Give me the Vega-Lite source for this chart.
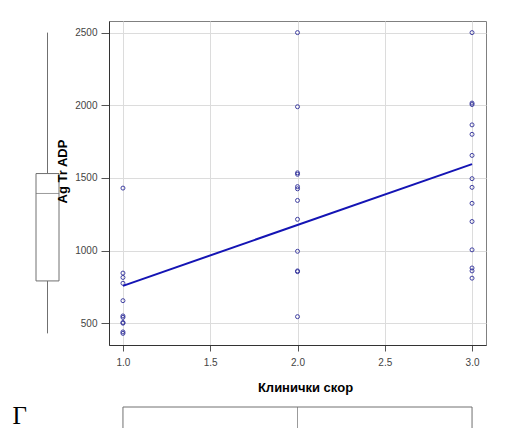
{
  "$schema": "https://vega.github.io/schema/vega-lite/v6.json",
  "background": "white",
  "padding": {"left": 12, "top": 20, "right": 0, "bottom": 0},
  "config": {
    "font": "Liberation Sans",
    "view": {"stroke": null},
    "axis": {
      "labelFont": "Liberation Sans",
      "labelFontSize": 10,
      "labelColor": "#444444",
      "tickColor": "#555555",
      "domainColor": "#333333",
      "gridColor": "#dcdcdc",
      "titleFont": "Liberation Sans",
      "titleFontSize": 13,
      "titleFontWeight": "bold",
      "titleColor": "#000000"
    }
  },
  "datasets": {
    "obs": [
      {"score": 1, "adp": 1430}, {"score": 1, "adp": 845}, {"score": 1, "adp": 815},
      {"score": 1, "adp": 775}, {"score": 1, "adp": 655}, {"score": 1, "adp": 550},
      {"score": 1, "adp": 540}, {"score": 1, "adp": 505}, {"score": 1, "adp": 500},
      {"score": 1, "adp": 440}, {"score": 1, "adp": 430},
      {"score": 2, "adp": 2500}, {"score": 2, "adp": 1990}, {"score": 2, "adp": 1535},
      {"score": 2, "adp": 1525}, {"score": 2, "adp": 1440}, {"score": 2, "adp": 1425},
      {"score": 2, "adp": 1345}, {"score": 2, "adp": 1215}, {"score": 2, "adp": 995},
      {"score": 2, "adp": 860}, {"score": 2, "adp": 855}, {"score": 2, "adp": 545},
      {"score": 3, "adp": 2500}, {"score": 3, "adp": 2015}, {"score": 3, "adp": 2005},
      {"score": 3, "adp": 1865}, {"score": 3, "adp": 1800}, {"score": 3, "adp": 1655},
      {"score": 3, "adp": 1495}, {"score": 3, "adp": 1435}, {"score": 3, "adp": 1325},
      {"score": 3, "adp": 1200}, {"score": 3, "adp": 1005}, {"score": 3, "adp": 880},
      {"score": 3, "adp": 860}, {"score": 3, "adp": 810}
    ],
    "fit": [{"score": 1, "adp": 757}, {"score": 3, "adp": 1595}],
    "ybox": [{"v": "Ag Tr ADP", "lo": 430, "q1": 791, "med": 1393, "q3": 1530, "hi": 2500}],
    "xbox": [{"v": "Клинички скор", "q1": 1, "med": 2, "q3": 3}]
  },
  "bounds": "flush",
  "spacing": 50,
  "hconcat": [
    {
      "width": 23,
      "height": 324,
      "data": {"name": "ybox"},
      "encoding": {
        "x": {"field": "v", "type": "nominal", "axis": null,
              "scale": {"paddingInner": 0, "paddingOuter": 0}}
      },
      "layer": [
        {
          "mark": {"type": "rule", "color": "#707070", "strokeWidth": 1},
          "encoding": {
            "y": {"field": "lo", "type": "quantitative", "axis": null,
                  "scale": {"domain": [350, 2580], "nice": false, "zero": false}},
            "y2": {"field": "hi"}
          }
        },
        {
          "mark": {"type": "bar", "fill": "white", "stroke": "#707070", "strokeWidth": 1},
          "encoding": {
            "y": {"field": "q1", "type": "quantitative", "axis": null,
                  "scale": {"domain": [350, 2580], "nice": false, "zero": false}},
            "y2": {"field": "q3"}
          }
        },
        {
          "mark": {"type": "tick", "color": "#707070", "size": 23, "thickness": 1},
          "encoding": {
            "y": {"field": "med", "type": "quantitative", "axis": null,
                  "scale": {"domain": [350, 2580], "nice": false, "zero": false}}
          }
        }
      ]
    },
    {
      "bounds": "flush",
      "spacing": 62,
      "vconcat": [
        {
          "width": 377,
          "height": 324,
          "view": {"stroke": "#808080", "strokeWidth": 1},
          "encoding": {
            "x": {
              "field": "score", "type": "quantitative",
              "scale": {"domain": [0.92, 3.08], "nice": false, "zero": false},
              "axis": {
                "title": "Клинички скор",
                "values": [1, 1.5, 2, 2.5, 3],
                "format": ".1f",
                "tickSize": 6,
                "labelPadding": 6,
                "titleBaseline": "top",
                "titleY": 36,
                "titleX": 196
              }
            },
            "y": {
              "field": "adp", "type": "quantitative",
              "scale": {"domain": [350, 2580], "nice": false, "zero": false},
              "axis": {
                "title": "Ag Tr ADP",
                "values": [500, 1000, 1500, 2000, 2500],
                "format": "d",
                "tickSize": 8,
                "labelPadding": 4,
                "titleY": 150,
                "titlePadding": 5
              }
            }
          },
          "layer": [
            {
              "data": {"name": "obs"},
              "mark": {"type": "point", "shape": "circle", "filled": false,
                       "color": "#2e2e9a", "size": 16, "strokeWidth": 1, "opacity": 0.9}
            },
            {
              "data": {"name": "fit"},
              "mark": {"type": "line", "color": "#1414b4", "strokeWidth": 2}
            }
          ]
        },
        {
          "width": 377,
          "height": 32,
          "data": {"name": "xbox"},
          "encoding": {
            "y": {
              "field": "v", "type": "nominal",
              "scale": {"paddingInner": 0, "paddingOuter": 0},
              "axis": {
                "title": "Г",
                "labels": false, "ticks": false, "domain": false, "grid": false,
                "titleAngle": 0,
                "titleFont": "Liberation Serif",
                "titleFontWeight": "normal",
                "titleFontSize": 25,
                "titleAlign": "left",
                "titleBaseline": "alphabetic",
                "titleX": -97,
                "titleY": 16
              }
            }
          },
          "layer": [
            {
              "mark": {"type": "bar", "fill": "white", "stroke": "#707070", "strokeWidth": 1},
              "encoding": {
                "x": {"field": "q1", "type": "quantitative", "axis": null,
                      "scale": {"domain": [0.92, 3.08], "nice": false, "zero": false}},
                "x2": {"field": "q3"}
              }
            },
            {
              "mark": {"type": "tick", "color": "#707070", "size": 32, "thickness": 1},
              "encoding": {
                "x": {"field": "med", "type": "quantitative", "axis": null,
                      "scale": {"domain": [0.92, 3.08], "nice": false, "zero": false}}
              }
            }
          ]
        }
      ]
    }
  ]
}
